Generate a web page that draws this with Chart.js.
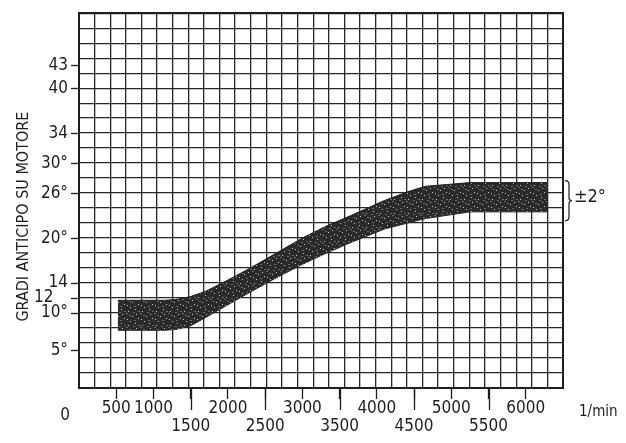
<!DOCTYPE html>
<html>
<head>
<meta charset="utf-8">
<script src="https://cdn.jsdelivr.net/npm/chart.js@4.4.1/dist/chart.umd.min.js"></script>
<style>
  html, body { margin: 0; padding: 0; background: #fff; }
  canvas { display: block; }
</style>
</head>
<body>
<canvas id="anticipoChart" width="626" height="443"></canvas>
<script>
// engine speed along the advance band (1/min)
const rpm = [520, 1150, 1300, 1500, 1700, 2000, 2300, 2650, 3000, 3300, 3650, 4100, 4450, 4650, 5250, 6290];
// upper and lower edge of the band, degrees of advance
const upperDeg = [11.7, 11.7, 11.8, 12.2, 12.9, 14.4, 16.0, 18.0, 20.0, 21.5, 23.0, 25.0, 26.3, 26.9, 27.4, 27.4];
const lowerDeg = [7.7, 7.7, 7.8, 8.3, 9.4, 11.1, 12.8, 14.7, 16.5, 17.9, 19.4, 21.2, 22.1, 22.6, 23.5, 23.5];

const xTicks = [500, 1000, 1500, 2000, 2500, 3000, 3500, 4000, 4500, 5000, 5500, 6000];
const yTicks = [5, 10, 12, 14, 20, 26, 30, 34, 40, 43];
const yLabels = ['5°', '10°', '12   ', '14', '20°', '26°', '30°', '34', '40', '43'];
const tolerance = '±2°';

const ink = '#1e1e1e';
const narrow = "'Liberation Sans Narrow', 'DejaVu Sans Condensed', 'Roboto', sans-serif";

// dark fill with small light specks, like the hatched band
function speckle() {
  const c = document.createElement('canvas');
  c.width = 14; c.height = 14;
  const g = c.getContext('2d');
  g.fillStyle = '#2a2a2a';
  g.fillRect(0, 0, 14, 14);
  g.fillStyle = '#c8c8c8';
  [[2, 3], [9, 1], [6, 8], [12, 10], [1, 11], [10, 6], [4, 13]].forEach(p => g.fillRect(p[0], p[1], 1, 1));
  g.fillStyle = '#6a6a6a';
  [[7, 4], [3, 7], [12, 3], [8, 12], [0, 5]].forEach(p => g.fillRect(p[0], p[1], 2, 1));
  return g.createPattern(c, 'repeat');
}

const extras = {
  id: 'extras',
  afterDraw(chart) {
    const { ctx, chartArea, scales } = chart;
    const x = scales.x, y = scales.y;
    ctx.save();
    ctx.strokeStyle = ink;
    ctx.fillStyle = ink;
    ctx.lineWidth = 1.3;

    // longer ticks under the labels on the second row
    xTicks.filter(v => v % 1000 === 500 && v > 500).forEach(v => {
      const px = Math.round(x.getPixelForValue(v)) + 0.5;
      ctx.beginPath();
      ctx.moveTo(px, chartArea.bottom);
      ctx.lineTo(px, chartArea.bottom + 22);
      ctx.stroke();
    });

    // origin label and unit
    ctx.textBaseline = 'middle';
    ctx.textAlign = 'center';
    ctx.font = '17px ' + narrow;
    ctx.fillText('0', x.getPixelForValue(0) - 14, chartArea.bottom + 28);
    ctx.textAlign = 'left';
    ctx.font = '15px ' + narrow;
    ctx.fillText('1/min', chartArea.right + 16, chartArea.bottom + 24);

    // brace with the tolerance at the end of the band
    const top = y.getPixelForValue(upperDeg[upperDeg.length - 1]) - 2;
    const bot = y.getPixelForValue(lowerDeg[lowerDeg.length - 1]) + 9;
    const mid = (top + bot) / 2;
    const bx = chartArea.right + 2;
    ctx.lineWidth = 1.2;
    ctx.beginPath();
    ctx.moveTo(bx, top);
    ctx.quadraticCurveTo(bx + 4, top, bx + 4, top + 4);
    ctx.lineTo(bx + 4, mid - 3);
    ctx.quadraticCurveTo(bx + 4, mid, bx + 7, mid);
    ctx.quadraticCurveTo(bx + 4, mid, bx + 4, mid + 3);
    ctx.lineTo(bx + 4, bot - 4);
    ctx.quadraticCurveTo(bx + 4, bot, bx, bot);
    ctx.stroke();
    ctx.font = '18px ' + narrow;
    ctx.fillText(tolerance, bx + 9, mid - 3);
    ctx.restore();
  }
};

const ctx = document.getElementById('anticipoChart').getContext('2d');

new Chart(ctx, {
  type: 'line',
  data: {
    datasets: [
      {
        label: 'max',
        data: rpm.map((r, i) => ({ x: r, y: upperDeg[i] })),
        borderColor: ink,
        borderWidth: 1,
        backgroundColor: speckle(),
        fill: '+1',
        pointRadius: 0,
        tension: 0
      },
      {
        label: 'min',
        data: rpm.map((r, i) => ({ x: r, y: lowerDeg[i] })),
        borderColor: ink,
        borderWidth: 1,
        fill: false,
        pointRadius: 0,
        tension: 0
      }
    ]
  },
  options: {
    responsive: false,
    animation: false,
    devicePixelRatio: 1,
    layout: { padding: { top: 12, right: 63, left: 0, bottom: 0 } },
    plugins: {
      legend: { display: false },
      tooltip: { enabled: false }
    },
    scales: {
      x: {
        type: 'linear',
        position: 'bottom',
        min: 0,
        max: 6500,
        afterBuildTicks: s => { s.ticks = xTicks.map(v => ({ value: v })); },
        afterFit: s => { s.height = 55; },
        grid: { drawOnChartArea: false, tickLength: 11, tickColor: ink, tickWidth: 1.3 },
        border: { color: ink, width: 2 },
        ticks: {
          color: ink,
          padding: 0,
          maxRotation: 0,
          autoSkip: false,
          font: { family: narrow, size: 17, lineHeight: 1.1 },
          callback: v => (v % 1000 === 500 && v > 500) ? ['', String(v)] : String(v)
        }
      },
      y: {
        position: 'left',
        min: 0,
        max: 50,
        afterBuildTicks: s => { s.ticks = yTicks.map(v => ({ value: v })); },
        afterFit: s => { s.width = 79; },
        grid: { drawOnChartArea: false, tickLength: 8, tickColor: ink, tickWidth: 1.3 },
        border: { color: ink, width: 2 },
        ticks: {
          color: ink,
          padding: 3,
          autoSkip: false,
          font: { family: narrow, size: 17 },
          callback: v => yLabels[yTicks.indexOf(v)]
        },
        title: {
          display: true,
          // trailing spaces push the rotated title a little lower
          text: 'GRADI ANTICIPO SU MOTORE       ',
          color: ink,
          font: { family: narrow, size: 16 },
          padding: { top: 14, bottom: 0 }
        }
      },
      // graph paper: 31 columns across, one row every 2 degrees
      gx: {
        type: 'linear',
        position: 'top',
        min: 0,
        max: 31,
        afterBuildTicks: s => { s.ticks = Array.from({ length: 32 }, (_, i) => ({ value: i })); },
        afterFit: s => { s.height = 0; },
        grid: { color: '#262626', lineWidth: 1.3, drawTicks: false },
        border: { color: ink, width: 2 },
        ticks: { display: false }
      },
      gy: {
        position: 'right',
        min: 0,
        max: 50,
        afterBuildTicks: s => { s.ticks = Array.from({ length: 26 }, (_, i) => ({ value: i * 2 })); },
        afterFit: s => { s.width = 0; },
        grid: { color: '#262626', lineWidth: 1.3, drawTicks: false },
        border: { color: ink, width: 2 },
        ticks: { display: false }
      }
    }
  },
  plugins: [extras]
});
</script>
</body>
</html>
